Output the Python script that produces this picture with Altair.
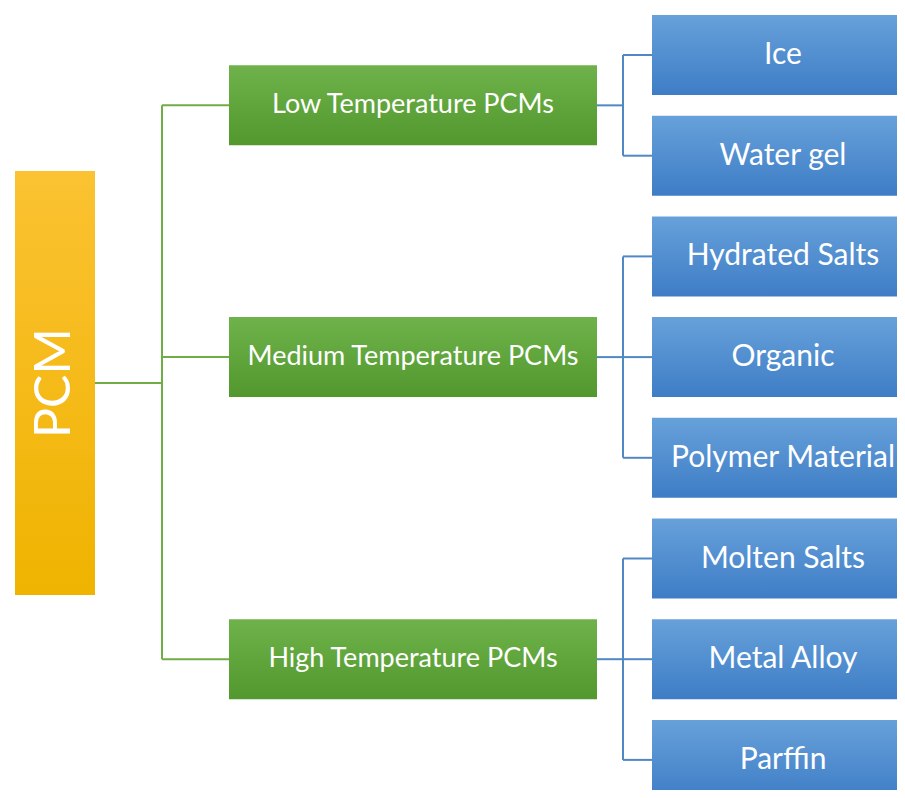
import altair as alt
import pandas as pd

# ---- data (hierarchy) ----
root_label = "PCM"
group_labels = ["Low Temperature PCMs", "Medium Temperature PCMs", "High Temperature PCMs"]
leaf_labels = [
    ["Ice", "Water gel"],
    ["Hydrated Salts", "Organic", "Polymer Material"],
    ["Molten Salts", "Metal Alloy", "Parffin"],
]

# ---- layout (page pixel coordinates) ----
LEAF_FIRST = 55.0
LEAF_PITCH = 100.7
LEAF_H = 80.0
LEAF_X0, LEAF_X1 = 652.0, 915.0
GRP_X0, GRP_X1 = 229.0, 597.0
GRP_H = 80.0
GRP_JOIN_X = 623.0
SPINE_X = 162.0
ROOT_X0, ROOT_X1 = 15.0, 95.0
ROOT_Y0, ROOT_Y1 = 171.0, 595.0

leaf_rows, grp_rows, root_rows, green_lines, blue_lines = [], [], [], [], []
k = 0
for g, (glabel, kids) in enumerate(zip(group_labels, leaf_labels)):
    centers = []
    for lab in kids:
        c = LEAF_FIRST + k * LEAF_PITCH
        centers.append(c)
        leaf_rows.append(dict(label=lab, x0=LEAF_X0, x1=LEAF_X1, y0=c - LEAF_H / 2, y1=c + LEAF_H / 2,
                              tx=783.0, ty=c))
        blue_lines.append(dict(x0=GRP_JOIN_X, x1=LEAF_X0, y0=c, y1=c))
        k += 1
    gc = (centers[0] + centers[-1]) / 2
    grp_rows.append(dict(label=glabel, x0=GRP_X0, x1=GRP_X1, y0=gc - GRP_H / 2, y1=gc + GRP_H / 2,
                         tx=(GRP_X0 + GRP_X1) / 2, ty=gc))
    blue_lines.append(dict(x0=GRP_X1, x1=GRP_JOIN_X, y0=gc, y1=gc))
    blue_lines.append(dict(x0=GRP_JOIN_X, x1=GRP_JOIN_X, y0=centers[0], y1=centers[-1]))
    green_lines.append(dict(x0=SPINE_X, x1=GRP_X0, y0=gc, y1=gc))

gcs = [r["ty"] for r in grp_rows]
green_lines.append(dict(x0=SPINE_X, x1=SPINE_X, y0=gcs[0], y1=gcs[-1]))
rc = (ROOT_Y0 + ROOT_Y1) / 2
green_lines.append(dict(x0=ROOT_X1, x1=SPINE_X, y0=rc, y1=rc))
root_rows.append(dict(label=root_label, x0=ROOT_X0, x1=ROOT_X1, y0=ROOT_Y0, y1=ROOT_Y1,
                      tx=(ROOT_X0 + ROOT_X1) / 2, ty=rc))

leaf_df = pd.DataFrame(leaf_rows)
grp_df = pd.DataFrame(grp_rows)
root_df = pd.DataFrame(root_rows)
gl_df = pd.DataFrame(green_lines)
bl_df = pd.DataFrame(blue_lines)

W, H = 889, 782
xs = alt.Scale(domain=[8, 8 + W], nice=False, zero=False)
ys = alt.Scale(domain=[8, 8 + H], nice=False, zero=False, reverse=True)
X = lambda f: alt.X(f, type="quantitative", scale=xs, axis=None)
Y = lambda f: alt.Y(f, type="quantitative", scale=ys, axis=None)


def grad(top, bottom):
    return alt.LinearGradient(
        gradient="linear",
        stops=[alt.GradientStop(color=top, offset=0), alt.GradientStop(color=bottom, offset=1)],
        x1=0, x2=0, y1=0, y2=1,
    )


FONT = "Lato"

def boxes(df, top, bottom):
    return alt.Chart(df).mark_rect(color=grad(top, bottom)).encode(
        x=X("x0"), x2="x1", y=Y("y0"), y2="y1")

def lines(df, color):
    return alt.Chart(df).mark_rule(color=color, strokeWidth=2).encode(
        x=X("x0"), x2="x1", y=Y("y0"), y2="y1")

def texts(df, size, angle=0):
    return alt.Chart(df).mark_text(color="white", font=FONT, fontSize=size, angle=angle,
                                   align="center", baseline="middle").encode(
        x=X("tx"), y=Y("ty"), text="label")

chart = alt.layer(
    lines(gl_df, "#70AD47"),
    lines(bl_df, "#5088C4"),
    boxes(root_df, "#FBC232", "#EFB300"),
    boxes(grp_df, "#6FB24B", "#52982E"),
    boxes(leaf_df, "#67A1DA", "#3E7DC6"),
    texts(root_df, 50, 270),
    texts(grp_df, 27),
    texts(leaf_df, 30),
).properties(
    width=W, height=H, padding=0, autosize=alt.AutoSizeParams(type="none")
).configure_view(stroke=None)

chart.save("out.html", embed_options={"renderer": "svg", "actions": False})
